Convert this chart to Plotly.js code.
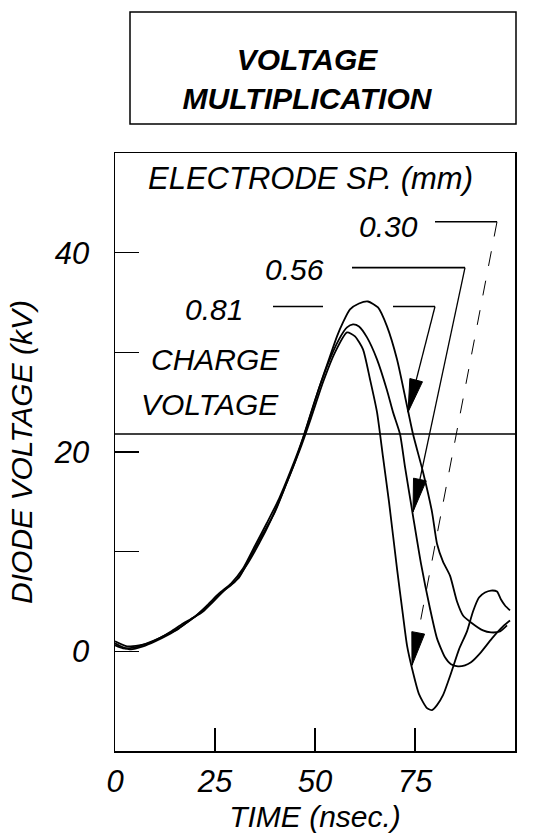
<!DOCTYPE html>
<html>
<head>
<meta charset="utf-8">
<script src="https://cdn.plot.ly/plotly-3.0.1.min.js"></script>
<style>
  html, body { margin: 0; padding: 0; background: #ffffff; }
  #chart { width: 539px; height: 839px; }
</style>
</head>
<body>
<div id="chart"></div>
<script>
// ---------------- DATA ----------------
const spacingLabels = ['0.30', '0.56', '0.81'];   // electrode spacing (mm)

// 0.30 mm
const time030 = [0, 2, 4, 7, 10, 13, 16, 19, 22, 25, 28, 31, 34, 37, 40, 43, 46, 49, 52, 55, 58, 60, 62, 63.75, 65.5, 67, 68.5, 70.5, 72, 73, 74.25, 76, 78, 79.25, 80.5, 82, 84, 86, 88, 89.5, 91, 92.5, 94, 95.5, 96.5, 97.5, 98.75];
const volt030 = [0.8, 0.4, 0.2, 0.5, 1.0, 1.6, 2.3, 3.2, 4.0, 5.2, 6.4, 7.4, 9.6, 11.8, 14.0, 17.0, 20.0, 23.4, 27.0, 30.0, 32.0, 31.6, 30.3, 27.3, 24.0, 19.5, 15.0, 8.3, 3.6, 0.6, -1.7, -4.3, -5.7, -5.9, -5.4, -4.4, -2.2, 0.2, 2.0, 4.0, 5.4, 5.9, 6.1, 6.0, 5.2, 4.6, 4.1];

// 0.56 mm
const time056 = [0, 2, 5, 8, 11, 14, 17, 20, 23, 26, 29, 32, 35, 38, 41, 44, 47, 50, 53, 56, 58, 59.5, 61, 63, 65.5, 68, 69.5, 71.25, 72.5, 74.5, 76.5, 78.75, 80.5, 82.5, 84, 85.75, 87.5, 89, 91.25, 94.25, 97, 98.75];
const volt056 = [0.6, 0.3, 0.4, 0.8, 1.3, 2.0, 2.8, 3.5, 4.6, 5.8, 6.8, 8.3, 10.6, 12.9, 15.3, 18.2, 21.4, 25.2, 28.6, 31.3, 32.5, 32.8, 32.6, 31.5, 29.3, 26.2, 24.0, 21.8, 18.5, 13.6, 8.8, 4.3, 1.3, -0.6, -1.3, -1.5, -1.4, -1.1, -0.2, 1.3, 2.5, 3.1];

// 0.81 mm
const time081 = [0, 3, 6, 9, 12, 15, 18, 21, 24, 27, 30, 33, 36, 39, 42, 45, 48, 51, 53.75, 55.5, 57, 58.75, 61, 63.25, 65.75, 68, 70.5, 72.5, 74.5, 77, 79.25, 80.5, 82, 83.75, 85.5, 87, 89, 92, 94, 96.25, 98];
const volt081 = [1.0, 0.5, 0.6, 0.9, 1.5, 2.1, 2.9, 3.8, 4.8, 6.0, 7.0, 8.7, 10.8, 13.2, 16.0, 19.0, 22.6, 26.4, 29.6, 31.6, 33.0, 34.3, 34.9, 35.1, 34.5, 32.6, 29.3, 25.6, 21.8, 18.0, 14.0, 10.8, 9.0, 7.6, 5.0, 3.6, 2.9, 2.1, 1.9, 2.0, 2.6];

const chargeVoltage = 21.8;   // kV

const xTickVals = [0, 25, 50, 75, 100];
const xTickText = ['0', '25', '50', '75', '100'];
const yTickVals = [0, 10, 20, 30, 40];
const yTickText = ['0', '', '20', '', '40'];

// ---------------- STYLE / LAYOUT CONFIG ----------------
const FONT = 'Liberation Sans, Arial, sans-serif';
const BLACK = '#000000';
const X_RANGE = [0, 100], Y_RANGE = [-10, 50];
const M = {l: 115, r: 24, t: 153, b: 88};
const PLOT_W = 539 - M.l - M.r, PLOT_H = 839 - M.t - M.b;
const PX_X = PLOT_W / (X_RANGE[1] - X_RANGE[0]);
const PX_Y = PLOT_H / (Y_RANGE[1] - Y_RANGE[0]);

// label callouts (annotation geometry, data units)
const callouts = {
  '0.30': {tx: 76.2, ty: 42.6, segs: [[80, 95.5]], ly: 43.1, tip: [74.25, -1.4], dash: 'longdash', w: 1},
  '0.56': {tx: 52.7, ty: 38.3, segs: [[59.25, 87.5]], ly: 38.5, tip: [74.5, 14.0], dash: 'solid', w: 1.3},
  '0.81': {tx: 32.4, ty: 34.3, segs: [[39.5, 52], [69.5, 80]], ly: 34.6, tip: [73.25, 24.0], dash: 'solid', w: 1.3}
};

const series = {
  '0.30': [time030, volt030],
  '0.56': [time056, volt056],
  '0.81': [time081, volt081]
};

const traces = spacingLabels.map(lab => ({
  type: 'scatter', mode: 'lines', name: lab + ' mm',
  x: series[lab][0], y: series[lab][1],
  line: {color: BLACK, width: 1.8, shape: 'spline', smoothing: 0.6},
  hoverinfo: 'x+y+name', showlegend: false
}));

function arrowPath(from, tip) {
  // triangle head in pixel space, converted back to data
  const fx = from[0] * PX_X, fy = -from[1] * PX_Y;
  const tx = tip[0] * PX_X, ty = -tip[1] * PX_Y;
  let dx = tx - fx, dy = ty - fy;
  const len = Math.hypot(dx, dy); dx /= len; dy /= len;
  const L = 33, W = 6.5;
  const bx = tx - L * dx, by = ty - L * dy;
  const nx = -dy, ny = dx;
  const pts = [[tx, ty], [bx + W * nx, by + W * ny], [bx - W * nx, by - W * ny]];
  return pts.map((p, i) => (i ? 'L' : 'M') + (p[0] / PX_X).toFixed(3) + ',' + (-p[1] / PX_Y).toFixed(3)).join(' ') + ' Z';
}

const shapes = [
  // title box
  {type: 'rect', xref: 'paper', yref: 'paper', x0: 0.0375, x1: 1.0025, y0: 1.0485, y1: 1.2358,
   line: {color: BLACK, width: 1.5}, fillcolor: 'rgba(0,0,0,0)'},
  // charge voltage line
  {type: 'line', xref: 'paper', yref: 'y', x0: 0, x1: 1, y0: chargeVoltage, y1: chargeVoltage,
   line: {color: BLACK, width: 1.5}}
];
const annotations = [
  {text: 'ELECTRODE SP. (mm)', x: 48.75, y: 47.4, xref: 'x', yref: 'y', showarrow: false,
   xanchor: 'center', yanchor: 'middle', font: {family: FONT, size: 31, style: 'italic', color: BLACK}},
  {text: 'CHARGE', x: 8.6, y: 29.3, xref: 'x', yref: 'y', showarrow: false,
   xanchor: 'left', yanchor: 'middle', font: {family: FONT, size: 30, style: 'italic', color: BLACK}},
  {text: 'VOLTAGE', x: 6.0, y: 24.8, xref: 'x', yref: 'y', showarrow: false,
   xanchor: 'left', yanchor: 'middle', font: {family: FONT, size: 30, style: 'italic', color: BLACK}}
];

spacingLabels.forEach(lab => {
  const c = callouts[lab];
  annotations.push({text: lab, x: c.tx, y: c.ty, xref: 'x', yref: 'y', showarrow: false,
    xanchor: 'right', yanchor: 'middle', font: {family: FONT, size: 30, style: 'italic', color: BLACK}});
  c.segs.forEach(s => shapes.push({type: 'line', xref: 'x', yref: 'y', x0: s[0], x1: s[1], y0: c.ly, y1: c.ly,
    line: {color: BLACK, width: 1.6}}));
  const end = c.segs[c.segs.length - 1][1];
  shapes.push({type: 'line', xref: 'x', yref: 'y', x0: end, y0: c.ly, x1: c.tip[0], y1: c.tip[1],
    line: {color: BLACK, width: c.w, dash: c.dash}});
  shapes.push({type: 'path', xref: 'x', yref: 'y', path: arrowPath([end, c.ly], c.tip),
    fillcolor: BLACK, line: {color: BLACK, width: 1}});
});

const layout = {
  width: 539, height: 839,
  margin: M,
  paper_bgcolor: '#ffffff', plot_bgcolor: '#ffffff',
  font: {family: FONT, color: BLACK},
  title: {text: 'VOLTAGE<br>MULTIPLICATION', xref: 'paper', x: 0.48, xanchor: 'center',
          yref: 'container', y: 1 - 70 / 839, yanchor: 'middle',
          font: {family: FONT, size: 30, weight: 'bold', style: 'italic', color: BLACK}},
  xaxis: {
    range: X_RANGE, tickvals: xTickVals, ticktext: xTickText,
    ticks: 'inside', ticklen: 23, tickwidth: 1.5, tickcolor: BLACK,
    showline: true, mirror: true, linecolor: BLACK, linewidth: 1.5,
    showgrid: false, zeroline: false, ticklabelstandoff: 2,
    tickfont: {family: FONT, size: 31, style: 'italic', color: BLACK},
    title: {text: 'TIME (nsec.)', standoff: 8, font: {family: FONT, size: 30, style: 'italic', color: BLACK}}
  },
  yaxis: {
    range: Y_RANGE, tickvals: yTickVals, ticktext: yTickText,
    ticks: 'inside', ticklen: 24, tickwidth: 1.5, tickcolor: BLACK,
    showline: true, mirror: true, linecolor: BLACK, linewidth: 1.5,
    showgrid: false, zeroline: false, ticklabelstandoff: 18,
    tickfont: {family: FONT, size: 31, style: 'italic', color: BLACK},
    title: {text: 'DIODE VOLTAGE (kV)', standoff: 12, font: {family: FONT, size: 30, style: 'italic', color: BLACK}}
  },
  shapes: shapes,
  annotations: annotations,
  showlegend: false
};

Plotly.newPlot('chart', traces, layout, {staticPlot: true, displayModeBar: false});
</script>
</body>
</html>
